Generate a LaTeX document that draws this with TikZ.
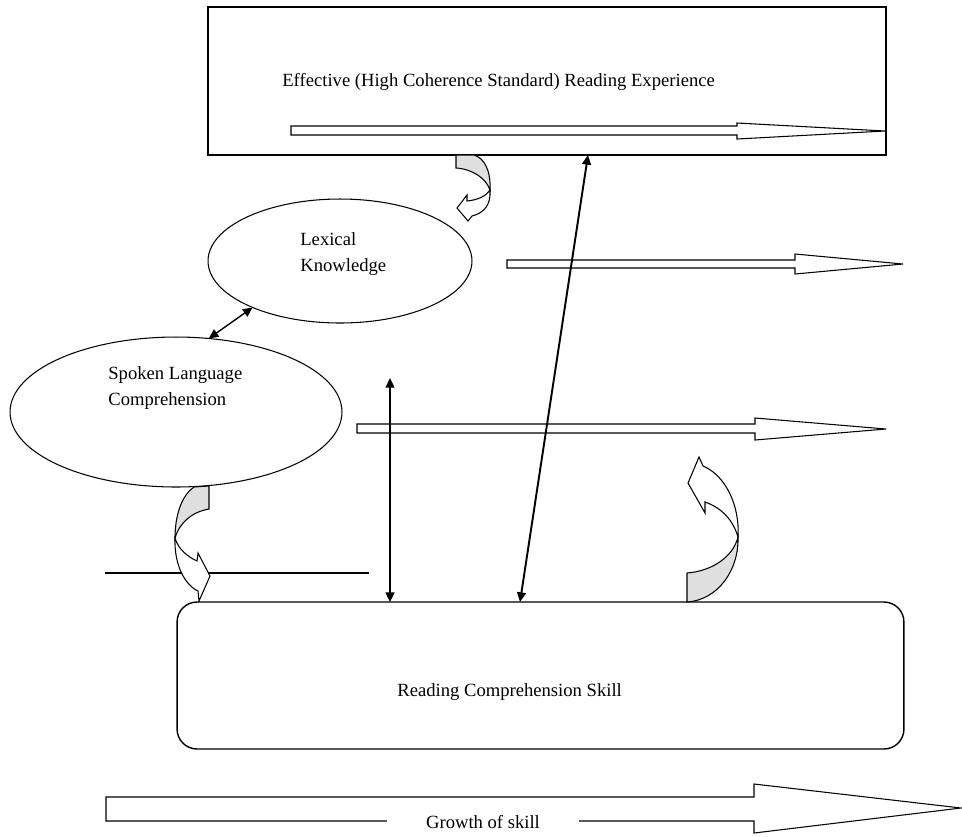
\documentclass[tikz,border=0pt]{standalone}
\usepackage{fontspec}
\setmainfont{Liberation Serif}
\usetikzlibrary{arrows.meta,shapes.geometric}

\tikzset{
  box/.style={draw, line width=0.8pt, inner sep=0pt, outer sep=0pt},
  oval/.style={ellipse, draw, line width=0.6pt, inner sep=0pt, outer sep=0pt},
  txt/.style={font=\fontsize{10.6}{15.3}\selectfont, align=left, inner sep=0pt},
  blockarr/.style={draw, fill=white, line width=0.6pt},
  curlback/.style={draw, fill=gray!25, line width=0.6pt},
  curlfront/.style={draw, fill=white, line width=0.6pt},
  dbl/.style={{Triangle[length=5.5pt,width=5pt]}-{Triangle[length=5.5pt,width=5pt]}, line width=1.1pt},
}

\begin{document}
\begin{tikzpicture}[x=0.02cm, y=-0.02cm]
\useasboundingbox (0,0) rectangle (962,836);

%%% boxes and ovals
\node [box, minimum width=13.56cm, minimum height=2.96cm] (exp) at (547,81) {};
\node [box, rounded corners=0.4cm, minimum width=14.54cm, minimum height=2.94cm] (rcs) at (540.5,675.5) {};
\node [oval, minimum width=5.28cm, minimum height=2.48cm] (lex) at (340,261) {};
\node [oval, minimum width=6.64cm, minimum height=3cm] (slc) at (176,412) {};

% labels
\node [txt, anchor=west] (explab) at (282,82) {Effective (High Coherence Standard) Reading Experience};
\node [txt, anchor=west] (lexlab) at (300,254) {Lexical\\Knowledge};
\node [txt, anchor=west] (slclab) at (108,388) {Spoken Language\\Comprehension};
\node [txt, anchor=west] (rcslab) at (397,692) {Reading Comprehension Skill};

%%% growth arrows (block arrows)
\draw [blockarr] (291,126) -- (737,126) -- (737,123) -- (885,131) -- (737,139) -- (737,135) -- (291,135) -- cycle;
\draw [blockarr] (507,260) -- (795,260) -- (795,254) -- (903,264) -- (795,274) -- (795,268) -- (507,268) -- cycle;
\draw [blockarr] (357,424) -- (755,424) -- (755,418) -- (886,429) -- (755,440) -- (755,433) -- (357,433) -- cycle;
\draw [blockarr] (106,797) -- (754,797) -- (754,784) -- (961,808) -- (754,833) -- (754,821) -- (106,821) -- cycle;
\node [txt, fill=white, inner xsep=0.78cm, inner ysep=2pt] (growth) at (483,822) {Growth of skill};

%%% thin line
\draw [line width=0.6pt] (105,573) -- (369,573);

%%% double arrows
\coordinate (dtop) at (588,0);
\coordinate (dbot) at (520,0);
\coordinate (vtop) at (390,378);
\draw [dbl] (exp.south -| dtop) -- (rcs.north -| dbot);
\draw [dbl] (vtop) -- (rcs.north -| vtop);
\draw [dbl, line width=0.8pt] (slc.66) -- (lex.208);

%%% curled arrows
% under the reading experience box
\draw [curlback] (456,155) -- (474,155) .. controls (484,158) and (491,170) .. (490,190)
  .. controls (486,178) and (472,169) .. (456,168) -- cycle;
\draw [curlfront] (490,190) .. controls (491,205) and (484,213) .. (472,216) -- (468,221) -- (457,208)
  -- (467,195) -- (467,201) .. controls (478,200) and (486,196) .. (490,190) -- cycle;

% from spoken language down
\draw [curlback] (209,486) -- (209,509) .. controls (192,512) and (180,522) .. (175,538)
  .. controls (175,515) and (182,495) .. (194,487) -- cycle;
\draw [curlfront] (175,538) .. controls (174,565) and (185,585) .. (198,591) -- (199,601) -- (210,576)
  -- (198,553) -- (197,561) .. controls (186,556) and (178,548) .. (175,538) -- cycle;

% from reading comprehension up
\draw [curlback] (687,602) -- (687,573) .. controls (712,571) and (733,557) .. (738,537)
  .. controls (739,570) and (718,600) .. (687,602) -- cycle;
\draw [curlfront] (738,537) .. controls (740,505) and (725,475) .. (703,466) -- (699,457) -- (688,483)
  -- (705,513) -- (705,502) .. controls (722,508) and (733,520) .. (738,537) -- cycle;

\end{tikzpicture}
\end{document}
